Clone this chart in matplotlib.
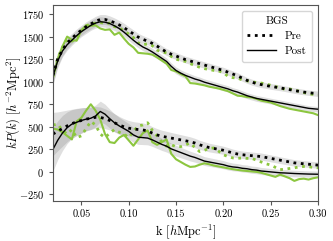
import numpy as np
import matplotlib
matplotlib.use('Agg')
import matplotlib.pyplot as plt
from matplotlib.lines import Line2D

plt.rcParams['font.family'] = 'serif'
plt.rcParams['font.serif'] = ['cmr10']
plt.rcParams['mathtext.fontset'] = 'cm'
plt.rcParams['axes.formatter.use_mathtext'] = True

# k bins
k = np.round(np.arange(0.02, 0.3001, 0.005), 3)

# monopole, mean of mocks (pre / post reconstruction)
p0_pre = [1070, 1250, 1350, 1430, 1480, 1530, 1570, 1610, 1640, 1670, 1690, 1690, 1675, 1655, 1630,
          1600, 1565, 1530, 1495, 1470, 1450, 1425, 1395, 1360, 1330, 1305, 1285, 1265, 1245, 1230,
          1215, 1200, 1185, 1170, 1155, 1140, 1125, 1105, 1085, 1065, 1040, 1015, 995, 980, 968,
          958, 948, 940, 932, 922, 912, 902, 893, 885, 878, 872, 866]
p0_post = [1060, 1230, 1340, 1410, 1460, 1510, 1555, 1590, 1625, 1650, 1665, 1660, 1645, 1620, 1590,
           1550, 1505, 1460, 1420, 1385, 1360, 1330, 1295, 1260, 1225, 1170, 1125, 1095, 1070, 1050,
           1030, 1015, 995, 980, 965, 950, 935, 920, 900, 885, 865, 845, 830, 815, 805,
           795, 785, 775, 765, 755, 745, 735, 725, 715, 705, 700, 695]
p0_sig = [90, 75, 65, 60, 55, 55, 55, 55, 55, 55, 55, 55, 55, 52, 50,
          48, 46, 44, 42, 41, 40, 40, 39, 39, 38, 38, 38, 37, 37, 37,
          36, 36, 36, 36, 35, 35, 35, 35, 34, 34, 34, 33, 33, 33, 33,
          32, 32, 32, 32, 31, 31, 31, 31, 30, 30, 30, 30]

# monopole, data
p0_pre_data = [1060, 1260, 1380, 1470, 1450, 1480, 1560, 1620, 1640, 1650, 1660, 1640, 1650, 1610, 1600,
               1560, 1530, 1490, 1430, 1410, 1420, 1400, 1350, 1330, 1320, 1280, 1250, 1235, 1225, 1200,
               1180, 1160, 1145, 1135, 1125, 1120, 1100, 1060, 1045, 1040, 1020, 1010, 1000, 990, 985,
               975, 960, 945, 935, 915, 920, 905, 895, 880, 865, 860, 855]
p0_post_data = [1040, 1250, 1390, 1500, 1465, 1455, 1570, 1625, 1620, 1625, 1590, 1575, 1580, 1520, 1545,
                1480, 1420, 1380, 1320, 1315, 1310, 1300, 1270, 1235, 1200, 1130, 1115, 1085, 1060, 985,
                980, 970, 960, 945, 935, 925, 910, 895, 870, 845, 840, 830, 825, 810, 790,
                780, 770, 750, 730, 715, 700, 690, 680, 670, 660, 650, 630]

# quadrupole, mean of mocks
p2_pre = [420, 450, 480, 510, 535, 555, 570, 585, 595, 605, 605, 590, 570, 545, 520,
          500, 485, 475, 470, 465, 455, 430, 410, 395, 385, 375, 365, 355, 345, 335,
          320, 300, 285, 270, 260, 250, 240, 225, 210, 198, 190, 185, 180, 175, 170,
          160, 150, 140, 130, 120, 110, 100, 95, 90, 85, 80, 75]
p2_post = [250, 350, 430, 490, 530, 550, 570, 585, 595, 620, 670, 640, 590, 545, 510,
           480, 450, 410, 385, 380, 375, 355, 330, 305, 285, 255, 235, 215, 195, 175,
           160, 140, 120, 110, 100, 90, 80, 65, 55, 50, 40, 35, 25, 20, 10,
           5, 0, -5, -10, -12, -15, -18, -20, -22, -24, -25, -26]
p2_sig = [240, 215, 195, 175, 160, 150, 140, 130, 125, 120, 115, 110, 105, 100, 95,
          90, 85, 82, 80, 77, 75, 72, 70, 67, 65, 62, 60, 58, 56, 54,
          52, 50, 49, 48, 47, 46, 45, 44, 43, 42, 41, 41, 40, 40, 39,
          39, 38, 38, 37, 37, 36, 36, 36, 35, 35, 35, 35]

# quadrupole, data
p2_pre_data = [520, 530, 460, 420, 470, 380, 400, 480, 560, 520, 420, 380, 430, 470, 440,
               420, 380, 450, 510, 520, 545, 460, 400, 330, 285, 300, 280, 280, 300, 320,
               270, 225, 240, 260, 265, 230, 190, 170, 155, 150, 155, 150, 150, 130, 110,
               90, 76, 50, 25, 30, 38, 45, 55, 60, 57, 50, 45]
p2_post_data = [480, 470, 440, 400, 360, 560, 600, 680, 750, 680, 580, 420, 330, 320, 380,
                410, 350, 290, 360, 430, 460, 330, 300, 330, 360, 200, 140, 110, 80, 55,
                60, 80, 95, 85, 70, 60, 50, 40, 30, 22, 15, 10, 5, 0, -10,
                -25, -40, -55, -30, -50, -70, -100, -80, -75, -85, -70, -60]

green = '#8cc63f'

fig = plt.figure(figsize=(3.33, 2.41), dpi=100)
ax = fig.add_axes([0.159, 0.167, 0.796, 0.812])

for mean in (p0_pre, p0_post):
    m = np.array(mean)
    s = np.array(p0_sig)
    ax.fill_between(k, m - s, m + s, color='gray', alpha=0.25, lw=0)
for mean in (p2_pre, p2_post):
    m = np.array(mean)
    s = np.array(p2_sig)
    ax.fill_between(k, m - s, m + s, color='gray', alpha=0.25, lw=0)

ax.plot(k, p0_pre_data, ':', color=green, lw=2)
ax.plot(k, p0_post_data, '-', color=green, lw=1.5)
ax.plot(k, p2_pre_data, ':', color=green, lw=2)
ax.plot(k, p2_post_data, '-', color=green, lw=1.5)

ax.plot(k, p0_pre, ':', color='k', lw=2)
ax.plot(k, p0_post, '-', color='k', lw=1)
ax.plot(k, p2_pre, ':', color='k', lw=2)
ax.plot(k, p2_post, '-', color='k', lw=1)

ax.set_xlim(0.02, 0.30)
ax.set_ylim(-320, 1850)
ax.set_xticks([0.05, 0.10, 0.15, 0.20, 0.25, 0.30])
ax.set_xticklabels(['0.05', '0.10', '0.15', '0.20', '0.25', '0.30'])
ax.set_yticks([-250, 0, 250, 500, 750, 1000, 1250, 1500, 1750])
ax.tick_params(labelsize=7.5, length=3, width=0.8, color='#555555')
for sp in ax.spines.values():
    sp.set_color('#555555')

ax.set_xlabel(r'k $[h{\rm Mpc}^{-1}]$', fontsize=9, labelpad=2)
ax.set_ylabel(r'$kP(k)\ [h^{-2}{\rm Mpc}^2]$', fontsize=9)
ax.yaxis.set_label_coords(-0.112, 0.5)

handles = [Line2D([], [], color='k', ls=':', lw=2),
           Line2D([], [], color='k', ls='-', lw=1)]
leg = ax.legend(handles, ['Pre', 'Post'], title='BGS', loc='upper right',
                fontsize=8, title_fontsize=8, handlelength=2.6, borderpad=0.5)

plt.savefig('out.png', dpi=100)
